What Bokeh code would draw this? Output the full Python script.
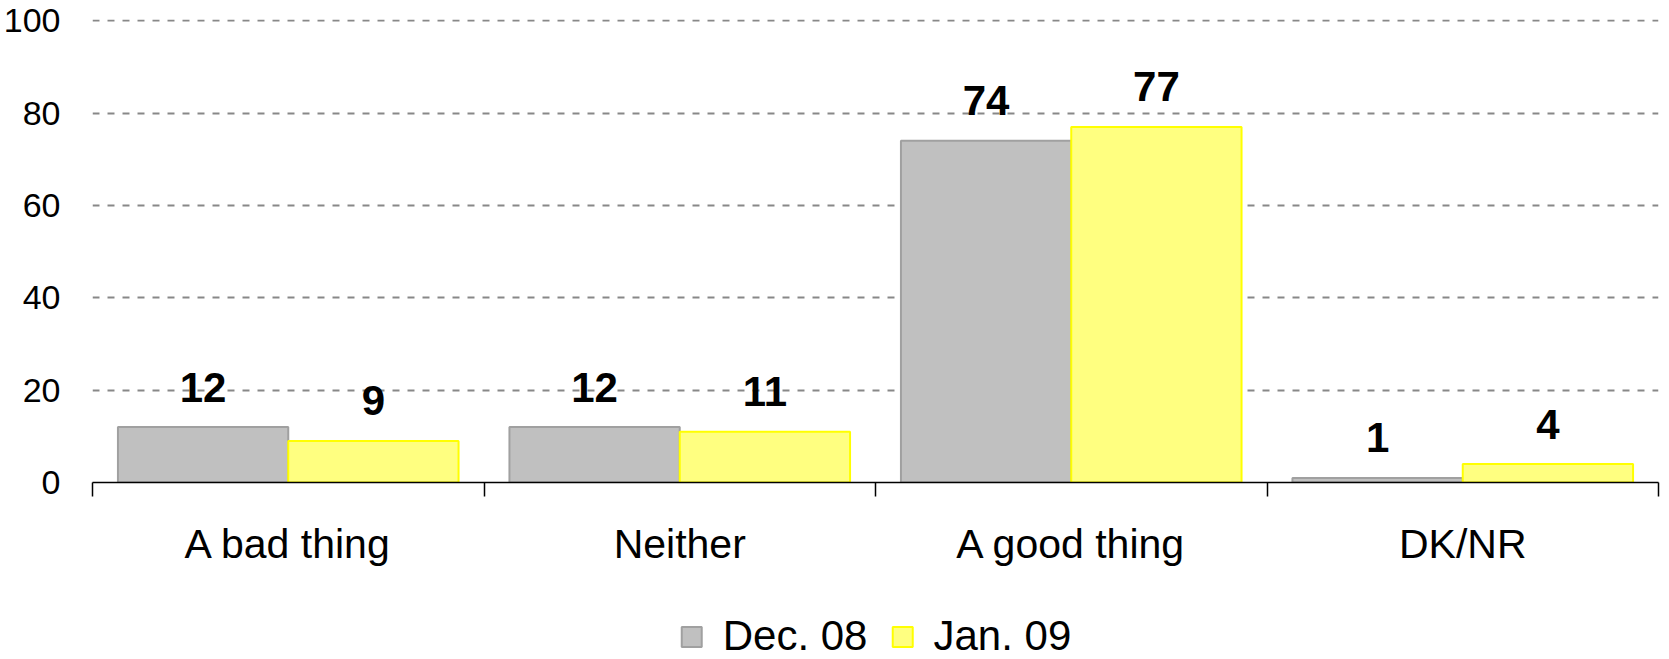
from bokeh.plotting import figure
from bokeh.layouts import column
from bokeh.models import (Range1d, FixedTicker, LinearAxis, Legend, LegendItem,
                          ColumnDataSource)
from bokeh.core.properties import value
from bokeh.embed import file_html
from bokeh.resources import INLINE

categories = ["A bad thing", "Neither", "A good thing", "DK/NR"]
series_names = ["Dec. 08", "Jan. 09"]
dec08 = [12, 12, 74, 1]
jan09 = [9, 11, 77, 4]
y_ticks = [0, 20, 40, 60, 80, 100]

FONT = "Liberation Sans"
BAR_W = 0.435
fills = ["#C0C0C0", "#FFFF80"]
lines = ["#A0A0A0", "#FFFF00"]

idx = list(range(len(categories)))

W = 1661
H1 = 613
H2 = 46

p = figure(width=W, height=H1, output_backend="svg", toolbar_location=None,
           x_range=Range1d(-0.5, len(categories) - 0.5), y_range=Range1d(0, 100.25),
           x_axis_type=None, min_border_left=84, min_border_right=3,
           min_border_top=19, min_border_bottom=H1 - 482)
p.outline_line_color = None
p.background_fill_color = "white"
p.border_fill_color = "white"

for k, (vals, name) in enumerate(zip([dec08, jan09], series_names)):
    offset = (-0.5 + k) * BAR_W
    src = ColumnDataSource(dict(x=[i + offset for i in idx], top=vals,
                                label=[str(v) for v in vals]))
    p.vbar(x="x", top="top", bottom=0, width=BAR_W, source=src,
           fill_color=fills[k], line_color=lines[k], line_width=2)
    p.text(x="x", y="top", text="label", source=src, y_offset=-40,
           text_align="center", text_baseline="alphabetic",
           text_font=value(FONT), text_font_style="bold",
           text_font_size="42px", text_color="black")

# y axis
p.yaxis.ticker = FixedTicker(ticks=y_ticks)
p.yaxis.axis_line_color = None
p.yaxis.major_tick_line_color = None
p.yaxis.minor_tick_line_color = None
p.yaxis.major_label_text_font = FONT
p.yaxis.major_label_text_font_size = "34px"
p.yaxis.major_label_text_color = "black"
p.yaxis.major_label_standoff = 26
p.ygrid.ticker = FixedTicker(ticks=y_ticks)
p.ygrid.grid_line_color = "#888888"
p.ygrid.grid_line_dash = "7 8"
p.ygrid.grid_line_width = 2
p.xgrid.grid_line_color = None

# x axis with ticks at category boundaries
xaxis = LinearAxis(ticker=FixedTicker(ticks=idx,
                                      minor_ticks=[i - 0.5 for i in range(len(categories) + 1)]))
xaxis.major_label_overrides = {i: c for i, c in zip(idx, categories)}
xaxis.major_tick_in = 0
xaxis.major_tick_out = 0
xaxis.major_tick_line_color = None
xaxis.minor_tick_in = 0
xaxis.minor_tick_out = 14
xaxis.minor_tick_line_color = "black"
xaxis.minor_tick_line_width = 1.5
xaxis.axis_line_color = "black"
xaxis.axis_line_width = 1.5
xaxis.major_label_text_font = FONT
xaxis.major_label_text_font_size = "41px"
xaxis.major_label_text_color = "black"
xaxis.major_label_standoff = 24
p.add_layout(xaxis, "below")

# legend strip: hidden proxy renderers, legend swatches drawn at full strength
lg = figure(width=W, height=H2, output_backend="svg", toolbar_location=None,
            x_axis_type=None, y_axis_type=None, min_border_left=84,
            min_border_right=3, min_border_top=0, min_border_bottom=0,
            x_range=Range1d(0, 1), y_range=Range1d(0, 1))
lg.outline_line_color = None
lg.xgrid.grid_line_color = None
lg.ygrid.grid_line_color = None
lg.background_fill_color = "white"
lg.border_fill_color = "white"
items = []
for k, name in enumerate(series_names):
    psrc = ColumnDataSource(dict(x=[0.5], top=[0.6], bottom=[0.4]))
    r = lg.vbar(x="x", top="top", bottom="bottom", width=0.1, source=psrc,
                fill_color=fills[k], line_color=lines[k], line_width=2)
    r.visible = False
    items.append(LegendItem(label=name, renderers=[r]))
legend = Legend(items=items, orientation="horizontal", location="center",
                label_text_font=FONT, label_text_font_size="42px",
                label_text_color="black",
                glyph_width=25, glyph_height=25, label_standoff=19, spacing=22,
                border_line_color=None, background_fill_alpha=0,
                inactive_fill_alpha=0,
                padding=0, margin=0)
lg.add_layout(legend, "center")

layout = column(p, lg, spacing=0)
open("out.html", "w").write(file_html(layout, INLINE))
